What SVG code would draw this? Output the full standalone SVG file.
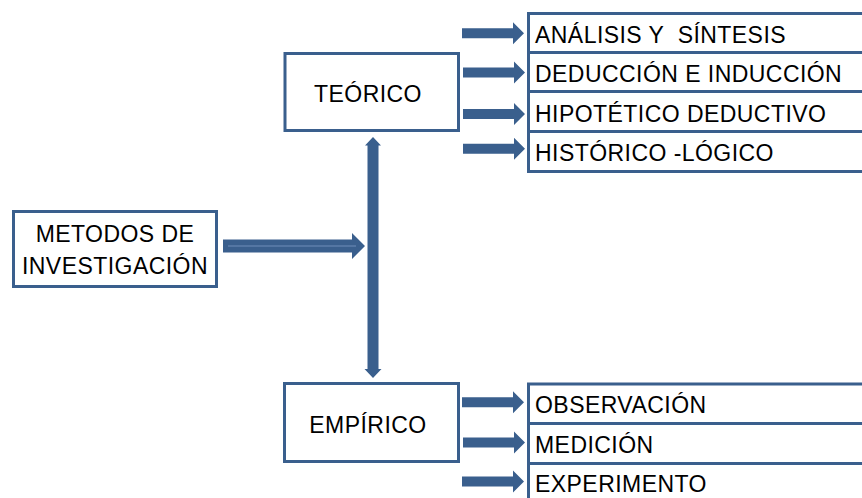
<svg xmlns="http://www.w3.org/2000/svg" width="862" height="498" viewBox="0 0 862 498">
<style>
.box{fill:#fff;stroke:#3A5F8D;stroke-width:3}
.div{stroke:#3A5F8D;stroke-width:3}
.t{font-family:"Liberation Sans",Arial,sans-serif;font-size:23px;fill:#000;letter-spacing:0.45px;white-space:pre}
.c{text-anchor:middle}
.ar{fill:#3A5F8D}
</style>
<defs>
<path id="sa" d="M0,-5 L51,-5 L51,-11 L62,0 L51,11 L51,5 L0,5 Z"/>
</defs>
<rect width="862" height="498" fill="#fff"/>
<g id="metodos">
<rect class="box" x="13.5" y="211.5" width="203" height="75"/>
<text class="t c" x="115" y="242">METODOS DE</text>
<text class="t c" x="115" y="274">INVESTIGACIÓN</text>
</g>
<g id="teorico">
<rect class="box" x="285" y="53.5" width="173.5" height="77"/>
<text class="t c" x="368" y="102">TEÓRICO</text>
</g>
<g id="empirico">
<rect class="box" x="284.5" y="383.5" width="174" height="78"/>
<text class="t c" x="368" y="433">EMPÍRICO</text>
</g>
<g id="teorico-list">
<rect class="box" x="528.5" y="13.5" width="340" height="158"/>
<line class="div" x1="528" y1="52.5" x2="862" y2="52.5"/>
<line class="div" x1="528" y1="91.5" x2="862" y2="91.5"/>
<line class="div" x1="528" y1="131.5" x2="862" y2="131.5"/>
<text class="t" x="535" y="43" xml:space="preserve">ANÁLISIS Y  SÍNTESIS</text>
<text class="t" x="535" y="82">DEDUCCIÓN E INDUCCIÓN</text>
<text class="t" x="535" y="122">HIPOTÉTICO DEDUCTIVO</text>
<text class="t" x="535" y="161">HISTÓRICO -LÓGICO</text>
</g>
<g id="empirico-list">
<rect class="box" x="528.5" y="384" width="340" height="130"/>
<line class="div" x1="528" y1="423.5" x2="862" y2="423.5"/>
<line class="div" x1="528" y1="463.5" x2="862" y2="463.5"/>
<text class="t" x="535" y="413">OBSERVACIÓN</text>
<text class="t" x="535" y="453">MEDICIÓN</text>
<text class="t" x="535" y="492">EXPERIMENTO</text>
</g>
<g id="connectors">
<path class="ar" d="M223,239.5 L352,239.5 L352,233 L365,246 L352,259 L352,252.5 L223,252.5 Z"/>
<line x1="228" y1="246" x2="356" y2="246" stroke="#6F8DBA" stroke-width="1.2"/>
<path class="ar" d="M373,137 L381,145.5 L378.5,145.5 L378.5,369 L381.5,369 L373,378 L364.5,369 L367.5,369 L367.5,145.5 L365,145.5 Z"/>
<use href="#sa" class="ar" x="462" y="33.3"/>
<use href="#sa" class="ar" x="463" y="72.5"/>
<use href="#sa" class="ar" x="463" y="114"/>
<use href="#sa" class="ar" x="463" y="148.7"/>
<use href="#sa" class="ar" x="462" y="402.3"/>
<use href="#sa" class="ar" x="463" y="442.5"/>
<use href="#sa" class="ar" x="462" y="481.5"/>
</g>
</svg>
